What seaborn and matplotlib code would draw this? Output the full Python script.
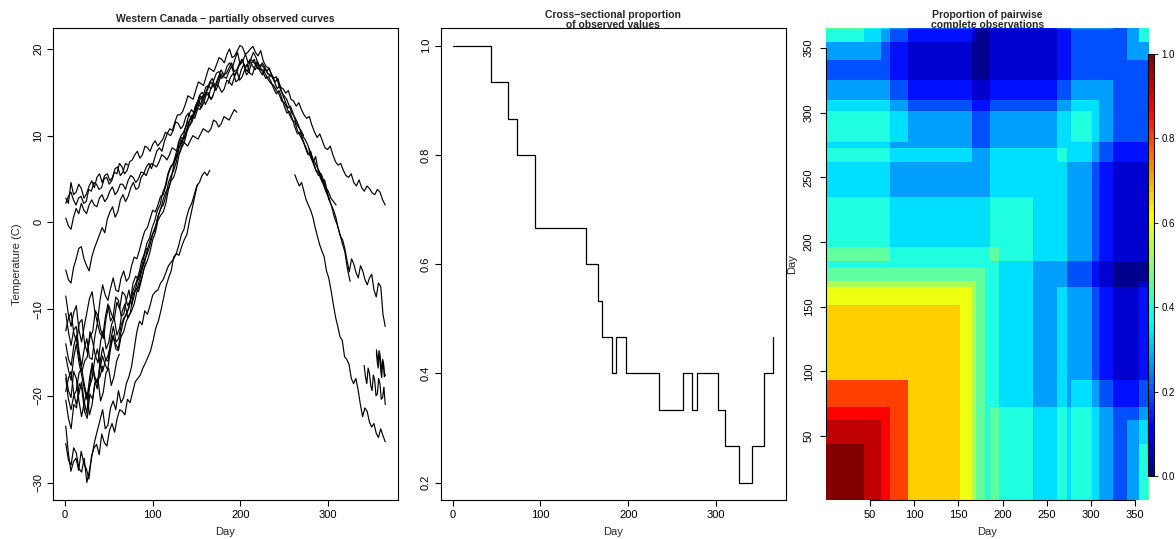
#!/usr/bin/env python3
"""Partially observed temperature curves, observed proportion and pairwise completeness."""

import matplotlib

matplotlib.use("Agg")
import matplotlib.pyplot as plt
import numpy as np
import pandas as pd
import seaborn as sns
from matplotlib.colors import LinearSegmentedColormap

N_DAYS = 365

# each curve is missing one block of days: first and last missing day
GAP_FIRST = [44, 63, 73, 94, 94, 152, 166, 170, 181, 197, 235, 273, 302, 310, 326]
GAP_LAST = [354, 340, 185, 277, 365, 365, 261, 354, 365, 365, 365, 365, 365, 365, 364]

# temperatures: part before the gap (A) and after it (B)
T01A = [-17.5, -19.4, -20.2, -17.2, -18.0, -20.6, -22.4, -20.8, -19.6, -22.2, -21.0,
        -18.6, -18.2, -17.8, -16.6]
T01B = [-15.0, -16.2, -16.8, -15.4, -15.6, -17.2, -17.9, -16.0, -16.4, -17.8, -17.6]
T02A = [-20.5, -22.6, -23.8, -21.0, -21.4, -18.6, -19.2, -21.8, -22.6, -19.8, -20.4,
        -18.4, -18.0, -20.6, -19.6, -17.4, -16.8, -18.8, -17.8, -16.0, -15.2]
T02B = [-16.5, -17.8, -18.6, -16.8, -17.4, -18.8, -19.4, -17.6, -18.2, -20.0, -19.8,
        -18.0, -18.6, -20.4, -20.2, -19.0, -21.0]
T03A = [2.8, 2.2, 4.6, 3.2, 3.5, 4.4, 3.9, 2.8, 3.3, 4.2, 4.8, 4.0, 5.2, 5.6, 4.6, 5.4,
        5.6, 4.8, 5.2, 6.2, 6.4, 5.4, 5.8, 6.8, 6.6]
T03B = [16.0, 16.8, 17.2, 16.2, 16.5, 17.6, 18.2, 17.0, 17.4, 18.4, 18.8, 17.8, 17.6,
        18.4, 17.9, 17.2, 17.0, 16.8, 16.2, 16.6, 15.6, 15.4, 14.9, 15.2, 14.2, 14.0,
        13.4, 13.8, 13.0, 12.4, 12.0, 12.2, 11.2, 10.4, 9.8, 10.2, 9.4, 8.6, 8.4, 8.8,
        7.8, 7.0, 6.6, 6.8, 6.0, 5.4, 5.2, 5.6, 4.6, 4.2, 4.9, 4.0, 3.6, 4.2, 3.9, 3.4,
        3.2, 3.8, 3.5, 2.6, 2.0]
T04A = [-14.0, -15.8, -16.5, -14.2, -13.0, -15.6, -17.2, -16.0, -15.5, -12.6, -13.8,
        -15.4, -16.2, -13.6, -12.4, -14.6, -13.8, -11.8, -11.0, -13.0, -12.2, -10.2,
        -9.4, -11.0, -10.4, -8.4, -7.6, -8.0, -6.8, -5.4, -4.6]
T04B = [8.5, 7.4, 7.0, 7.6, 6.2, 5.2, 4.6, 4.9, 3.8, 2.6, 2.0, 1.4, 0.6, -0.6, -1.6,
        -2.0, -3.0, -4.4, -5.7, -4.2, -4.8, -5.8, -6.4, -5.0, -5.6, -6.6, -7.2, -6.4,
        -6.0, -7.8, -8.6, -7.0, -7.4, -10.6, -12.0]
T05A = [-12.5, -11.0, -10.4, -12.8, -13.8, -11.6, -11.2, -14.0, -15.0, -13.2, -12.6,
        -10.2, -10.8, -12.4, -13.4, -11.0, -9.6, -10.6, -11.2, -9.2, -10.0, -8.0, -8.4,
        -9.6, -9.0, -7.0, -6.2, -6.6, -5.4, -4.0, -3.0]
T06A = [-25.5, -27.4, -28.0, -26.0, -26.6, -28.4, -28.8, -27.2, -30.0, -28.6, -26.8,
        -25.2, -24.0, -22.8, -21.6, -23.8, -23.4, -21.4, -20.6, -21.6, -19.4, -20.8,
        -20.2, -18.6, -17.8, -16.6, -14.6, -12.6, -11.4, -11.8, -10.2, -10.6, -9.6,
        -8.4, -8.0, -7.8, -7.0, -6.6, -5.8, -5.0, -4.6, -4.2, -3.6, -3.8, -2.8, -2.0,
        -1.4, 0.2, 1.6, 3.0, 4.4]
T07A = [-23.5, -26.6, -28.7, -27.6, -27.2, -28.6, -26.4, -27.8, -28.4, -29.6, -27.0,
        -26.0, -25.6, -26.8, -24.4, -25.4, -25.8, -24.0, -23.2, -24.2, -22.6, -21.6,
        -21.8, -22.2, -20.4, -20.8, -19.6, -18.4, -18.0, -17.6, -16.8, -16.2, -15.5,
        -14.8, -13.6, -12.2, -11.4, -10.2, -8.8, -7.4, -6.4, -5.6, -4.0, -3.6, -2.6,
        -1.4, -0.8, 0.6, 1.6, 2.2, 3.2, 4.2, 4.6, 5.4, 5.8, 5.4, 6.0]
T07B = [5.5, 4.8, 4.2, 4.6, 3.6, 2.6, 2.0, 1.4, 0.6, -0.6, -1.6, -2.6, -3.3, -4.0, -5.6,
        -6.4, -7.8, -9.4, -10.9, -12.0, -13.2, -13.6, -15.5, -15.8, -16.4, -18.0, -18.6,
        -18.0, -19.3, -21.0, -22.4, -21.4, -21.8, -23.0, -23.6, -23.2, -24.3, -24.8,
        -23.8, -24.6, -25.3]
T08A = [-18.0, -20.4, -21.6, -20.0, -19.4, -17.4, -16.8, -18.6, -20.2, -19.0, -18.0,
        -15.8, -14.6, -16.2, -17.2, -16.0, -15.4, -14.2, -13.0, -14.6, -14.8, -13.2,
        -12.6, -11.4, -10.8, -10.2, -9.4, -8.0, -7.2, -6.2, -5.0, -4.4, -3.4, -2.0,
        -1.2, 0.2, 0.8, 1.2, 2.2, 3.8, 4.8, 5.2, 6.2, 7.8, 8.6, 9.2, 10.4, 11.2, 11.6,
        12.6, 13.2, 13.0, 14.0, 14.8, 15.0, 14.2, 14.6]
T08B = [-14.7, -15.6, -16.0, -14.8, -15.2, -16.4, -17.0, -15.8, -16.2, -17.4, -17.6]
T09A = [-19.5, -18.0, -17.2, -19.6, -21.0, -19.8, -18.4, -20.6, -22.0, -19.2, -16.6,
        -18.0, -19.2, -17.0, -15.4, -16.4, -17.0, -14.8, -13.2, -14.0, -14.6, -12.8,
        -11.4, -10.6, -10.0, -8.4, -7.6, -6.8, -5.8, -4.4, -3.6, -2.4, -1.8, -0.6, 0.2,
        1.4, 2.0, 3.4, 4.2, 5.6, 6.4, 6.8, 7.8, 9.2, 10.0, 10.4, 11.2, 12.4, 13.0, 12.6,
        13.6, 14.6, 15.0, 14.6, 15.4, 16.2, 16.6, 15.6, 16.2, 17.0, 17.2]
T10A = [0.5, -0.4, -0.8, 0.6, 1.6, 1.0, 2.2, 1.4, 1.0, 2.0, 2.6, 2.0, 1.8, 2.8, 3.2, 2.4,
        2.8, 3.6, 4.1, 3.2, 3.6, 4.4, 4.4, 3.8, 4.8, 5.4, 5.2, 4.6, 5.0, 5.8, 5.7, 5.4,
        6.2, 6.8, 6.6, 6.4, 7.0, 7.8, 7.6, 7.2, 7.8, 8.6, 8.4, 8.2, 8.8, 9.4, 9.1, 8.8,
        9.4, 10.0, 9.8, 9.6, 10.2, 10.8, 10.6, 10.4, 10.8, 11.8, 11.6, 11.0, 11.4, 12.2,
        12.0, 11.8, 12.4, 13.0, 12.7]
T11A = [2.2, 3.0, 3.5, 2.6, 2.0, 2.8, 3.0, 2.2, 2.4, 3.8, 3.6, 4.6, 4.4, 3.8, 4.0, 5.0,
        5.2, 4.4, 4.8, 5.8, 5.6, 6.8, 6.4, 5.6, 6.0, 7.0, 7.2, 7.8, 8.2, 7.4, 7.8, 8.8,
        8.6, 8.2, 9.0, 9.4, 8.8, 9.2, 9.6, 10.4, 10.2, 10.0, 10.6, 11.6, 11.4, 10.8,
        11.2, 12.2, 12.6, 12.0, 12.4, 13.4, 13.6, 13.2, 13.8, 14.8, 14.6, 14.2, 15.0,
        16.0, 15.6, 15.0, 15.4, 16.4, 16.2, 15.8, 16.8, 17.4, 16.4, 16.8, 17.6, 18.2,
        17.2, 17.0, 18.0, 18.6, 17.4, 17.0, 17.8, 17.2, 16.8]
T12A = [-15.5, -17.0, -18.2, -15.6, -14.0, -16.2, -17.6, -19.2, -20.4, -18.0, -16.2,
        -17.8, -18.6, -16.0, -14.4, -15.8, -16.0, -13.6, -12.0, -13.8, -13.4, -11.8,
        -11.0, -10.6, -9.6, -8.4, -8.0, -7.6, -6.6, -5.2, -4.4, -3.0, -2.0, -1.2, -0.4,
        0.8, 1.6, 2.8, 3.6, 4.0, 5.2, 6.8, 7.8, 8.0, 9.0, 10.6, 11.6, 11.2, 12.2, 13.4,
        14.0, 13.6, 14.6, 15.6, 15.8, 15.4, 16.4, 17.2, 17.4, 16.6, 17.0, 18.0, 18.4,
        17.8, 18.8, 19.6, 18.2, 18.6, 19.4, 18.4, 18.8, 19.6, 19.0, 18.0, 18.2, 17.8,
        17.4, 17.8, 16.8, 16.2, 15.4, 15.8, 14.8, 14.0, 13.2, 13.4, 12.6, 11.6, 11.0,
        10.6, 10.0]
T13A = [-8.5, -10.6, -12.0, -10.4, -9.6, -12.4, -13.8, -12.0, -10.4, -8.8, -8.0, -10.2,
        -11.6, -9.0, -7.2, -8.4, -9.0, -7.6, -6.4, -7.8, -8.0, -6.4, -5.6, -6.8, -6.4,
        -5.0, -4.0, -4.2, -3.2, -2.0, -1.0, -0.6, 0.4, 1.4, 1.2, 2.0, 3.0, 3.2, 4.2, 5.6,
        6.4, 6.8, 7.6, 9.0, 9.8, 9.6, 10.6, 11.8, 12.4, 12.0, 13.0, 14.2, 14.6, 13.6,
        14.2, 15.4, 15.8, 15.2, 16.0, 17.0, 16.8, 16.6, 17.4, 18.0, 17.0, 17.4, 18.2,
        18.8, 17.8, 17.4, 18.6, 18.0, 17.6, 18.4, 17.8, 17.2, 16.6, 16.8, 16.2, 15.4,
        14.8, 15.2, 14.4, 13.4, 12.6, 12.8, 12.0, 11.0, 10.2, 10.4, 9.6, 8.6, 7.8, 8.2,
        7.0, 6.0, 5.4, 5.6, 4.8, 3.6, 2.6]
T14A = [-5.5, -6.6, -7.0, -5.2, -4.2, -3.0, -2.8, -4.2, -5.0, -5.6, -4.0, -3.0, -2.2,
        -1.4, -0.6, -1.2, 0.4, 1.2, 1.8, 0.6, 1.2, 2.6, 3.2, 2.4, 3.0, 4.0, 4.6, 3.8, 4.0,
        5.2, 5.6, 6.4, 6.8, 6.2, 7.2, 8.2, 8.6, 8.2, 9.4, 10.2, 10.8, 10.6, 11.6, 12.4,
        12.4, 12.8, 13.6, 14.6, 14.4, 14.2, 15.2, 16.2, 16.0, 15.8, 16.8, 17.8, 17.6,
        17.4, 18.2, 19.0, 18.8, 18.4, 19.4, 20.0, 19.0, 19.2, 19.8, 20.4, 20.2, 19.4,
        19.6, 20.0, 20.3, 19.6, 19.2, 19.8, 18.6, 18.0, 17.8, 17.2, 16.6, 16.8, 15.8,
        15.0, 14.6, 14.2, 13.4, 12.6, 12.2, 11.6, 10.8, 10.0, 9.6, 9.0, 8.2, 7.4, 6.8,
        6.2, 5.6, 4.6, 4.0, 3.6, 2.8, 2.4, 2.0]
T15A = [-10.5, -12.6, -14.2, -12.4, -12.0, -14.8, -16.6, -14.6, -13.4, -15.6, -15.8,
        -13.2, -11.6, -12.8, -13.2, -11.0, -9.4, -11.4, -10.8, -8.6, -9.0, -10.8, -10.6,
        -9.0, -7.8, -9.6, -8.4, -7.0, -6.0, -5.4, -4.2, -3.6, -2.6, -1.4, -0.8, 0.6, 1.6,
        2.0, 3.0, 4.6, 5.4, 6.0, 7.0, 8.6, 9.4, 9.8, 10.8, 11.8, 12.0, 12.6, 13.6, 14.6,
        14.2, 14.8, 15.4, 16.2, 15.8, 16.0, 16.8, 17.6, 17.0, 17.2, 17.8, 18.4, 17.4,
        17.6, 18.4, 18.8, 18.0, 18.2, 18.8, 18.6, 18.2, 17.8, 17.6, 17.6, 17.0, 16.4,
        16.0, 15.8, 15.2, 14.8, 14.0, 13.8, 13.2, 12.4, 11.8, 11.6, 10.6, 10.0, 9.4, 8.8,
        8.0, 7.6, 6.8, 6.0, 5.8, 5.2, 4.2, 3.4, 2.8, 1.8, 0.6, -0.2, -1.2, -2.4, -3.4,
        -5.4, -6.8]

CURVES = [
    (T01A, T01B), (T02A, T02B), (T03A, T03B), (T04A, T04B), (T05A, []),
    (T06A, []), (T07A, T07B), (T08A, T08B), (T09A, []), (T10A, []),
    (T11A, []), (T12A, []), (T13A, []), (T14A, []), (T15A, []),
]

X_TICKS = [0, 100, 200, 300]
TEMP_TICKS = [-30, -20, -10, 0, 10, 20]
PROP_TICKS = [0.2, 0.4, 0.6, 0.8, 1.0]
DAY_TICKS = [50, 100, 150, 200, 250, 300, 350]
CBAR_TICKS = [0.0, 0.2, 0.4, 0.6, 0.8, 1.0]

# fields::tim.colors(64) style palette
TIM = LinearSegmentedColormap.from_list(
    "tim",
    [(0, "#00008F"), (7 / 63, "#0000FF"), (23 / 63, "#00FFFF"),
     (39 / 63, "#FFFF00"), (55 / 63, "#FF0000"), (1, "#800000")],
    N=64,
)


def curve_table() -> pd.DataFrame:
    rows = []
    for i, (early, late) in enumerate(CURVES):
        parts = [(1, GAP_FIRST[i] - 1, early)]
        if GAP_LAST[i] < N_DAYS:
            parts.append((GAP_LAST[i] + 1, N_DAYS, late))
        for k, (d0, d1, vals) in enumerate(parts):
            if len(vals) < 2:
                continue
            for d, t in zip(np.linspace(d0, d1, len(vals)), vals):
                rows.append({"unit": f"{i}-{k}", "day": d, "temp": t})
    return pd.DataFrame(rows)


def r_limits(lo, hi):
    pad = 0.04 * (hi - lo)
    return lo - pad, hi + pad


def main() -> None:
    days = np.arange(1, N_DAYS + 1)
    observed = np.array([(days < f) | (days > l) for f, l in zip(GAP_FIRST, GAP_LAST)],
                        dtype=float)
    prop = observed.mean(axis=0)
    pairwise = observed.T @ observed / len(GAP_FIRST)
    curves = curve_table()

    sns.set_theme(style="ticks")
    plt.rcParams["font.family"] = ["Liberation Sans", "DejaVu Sans"]
    plt.rcParams.update({
        "axes.edgecolor": "black",
        "axes.linewidth": 0.8,
        "xtick.color": "black",
        "ytick.color": "black",
        "xtick.major.size": 4,
        "ytick.major.size": 4,
        "xtick.major.width": 0.8,
        "ytick.major.width": 0.8,
        "xtick.labelsize": 8,
        "ytick.labelsize": 8,
        "xtick.major.pad": 3,
        "ytick.major.pad": 3,
        "axes.labelsize": 8,
    })

    W, H = 1176, 539
    fig = plt.figure(figsize=(W / 100, H / 100), dpi=100)

    def px_axes(left, top, right, bottom):
        return fig.add_axes([left / W, 1 - bottom / H, (right - left) / W, (bottom - top) / H])

    ax1 = px_axes(53, 28, 398, 500)
    ax2 = px_axes(440.7, 28.3, 786, 500)
    ax3 = px_axes(826.3, 28, 1148.7, 500)
    cax = px_axes(1148.3, 54, 1154.3, 476)
    for ax in (ax1, ax2, ax3):
        ax.set_facecolor("none")

    # left: the curves
    sns.lineplot(data=curves, x="day", y="temp", units="unit", estimator=None,
                 color="black", lw=0.85, sort=False, ax=ax1)
    ax1.set_xlim(*r_limits(1, N_DAYS))
    ax1.set_ylim(*r_limits(curves["temp"].min(), curves["temp"].max()))
    ax1.set_xticks(X_TICKS)
    ax1.set_yticks(TEMP_TICKS)
    ax1.set_xlabel("Day")
    ax1.set_ylabel("Temperature (C)")
    ax1.yaxis.set_label_coords(-0.103, 0.5)

    # middle: proportion observed
    sns.lineplot(x=days, y=prop, estimator=None, drawstyle="steps-post",
                 color="black", lw=0.9, ax=ax2)
    ax2.set_xlim(*r_limits(1, N_DAYS))
    ax2.set_ylim(*r_limits(prop.min(), prop.max()))
    ax2.set_xticks(X_TICKS)
    ax2.set_yticks(PROP_TICKS)
    ax2.set_yticklabels([f"{v:.1f}" for v in PROP_TICKS])
    ax2.set_xlabel("Day")
    ax2.set_ylabel("")

    # right: pairwise complete proportion
    sns.heatmap(pairwise, ax=ax3, cmap=TIM, vmin=0.0, vmax=1.0,
                cbar_ax=cax, xticklabels=False, yticklabels=False,
                cbar_kws={"ticks": CBAR_TICKS, "format": "%.1f"})
    ax3.invert_yaxis()
    ax3.set_xticks(np.array(DAY_TICKS) - 0.5)
    ax3.set_xticklabels(DAY_TICKS)
    ax3.set_yticks(np.array(DAY_TICKS) - 0.5)
    ax3.set_yticklabels(DAY_TICKS)
    for side in ("left", "bottom"):
        ax3.spines[side].set_visible(True)
        ax3.spines[side].set_bounds(DAY_TICKS[0] - 0.5, DAY_TICKS[-1] - 0.5)
    for side in ("top", "right"):
        ax3.spines[side].set_visible(False)
    ax3.tick_params(axis="y", pad=5)
    ax3.set_xlabel("Day")
    ax3.set_ylabel("Day")
    ax3.yaxis.set_label_coords(-0.106, 0.5)

    cbar = ax3.collections[0].colorbar
    cbar.outline.set_linewidth(0.8)
    cbar.outline.set_edgecolor("black")
    cax.tick_params(labelsize=7, length=3, width=0.6, pad=2)

    for ax in (ax1, ax2, ax3):
        ax.xaxis.set_label_coords(0.5, -0.068)
        ax.xaxis.label.set_va("center")
        ax.yaxis.label.set_va("center")
        for lab in ax.get_yticklabels():
            lab.set_rotation(90)
            lab.set_va("center")

    title_kw = dict(ha="center", va="center", fontsize=7.5, fontweight="bold", zorder=-1)
    fig.text(225.5 / W, 1 - 19.5 / H, "Western Canada \u2212 partially observed curves", **title_kw)
    fig.text(613.4 / W, 1 - 15 / H, "Cross\u2212sectional proportion", **title_kw)
    fig.text(613.4 / W, 1 - 25.5 / H, "of observed values", **title_kw)
    fig.text(987.5 / W, 1 - 15 / H, "Proportion of pairwise", **title_kw)
    fig.text(987.5 / W, 1 - 25.5 / H, "complete observations", **title_kw)

    fig.savefig("out.png", dpi=100)


if __name__ == "__main__":
    main()
